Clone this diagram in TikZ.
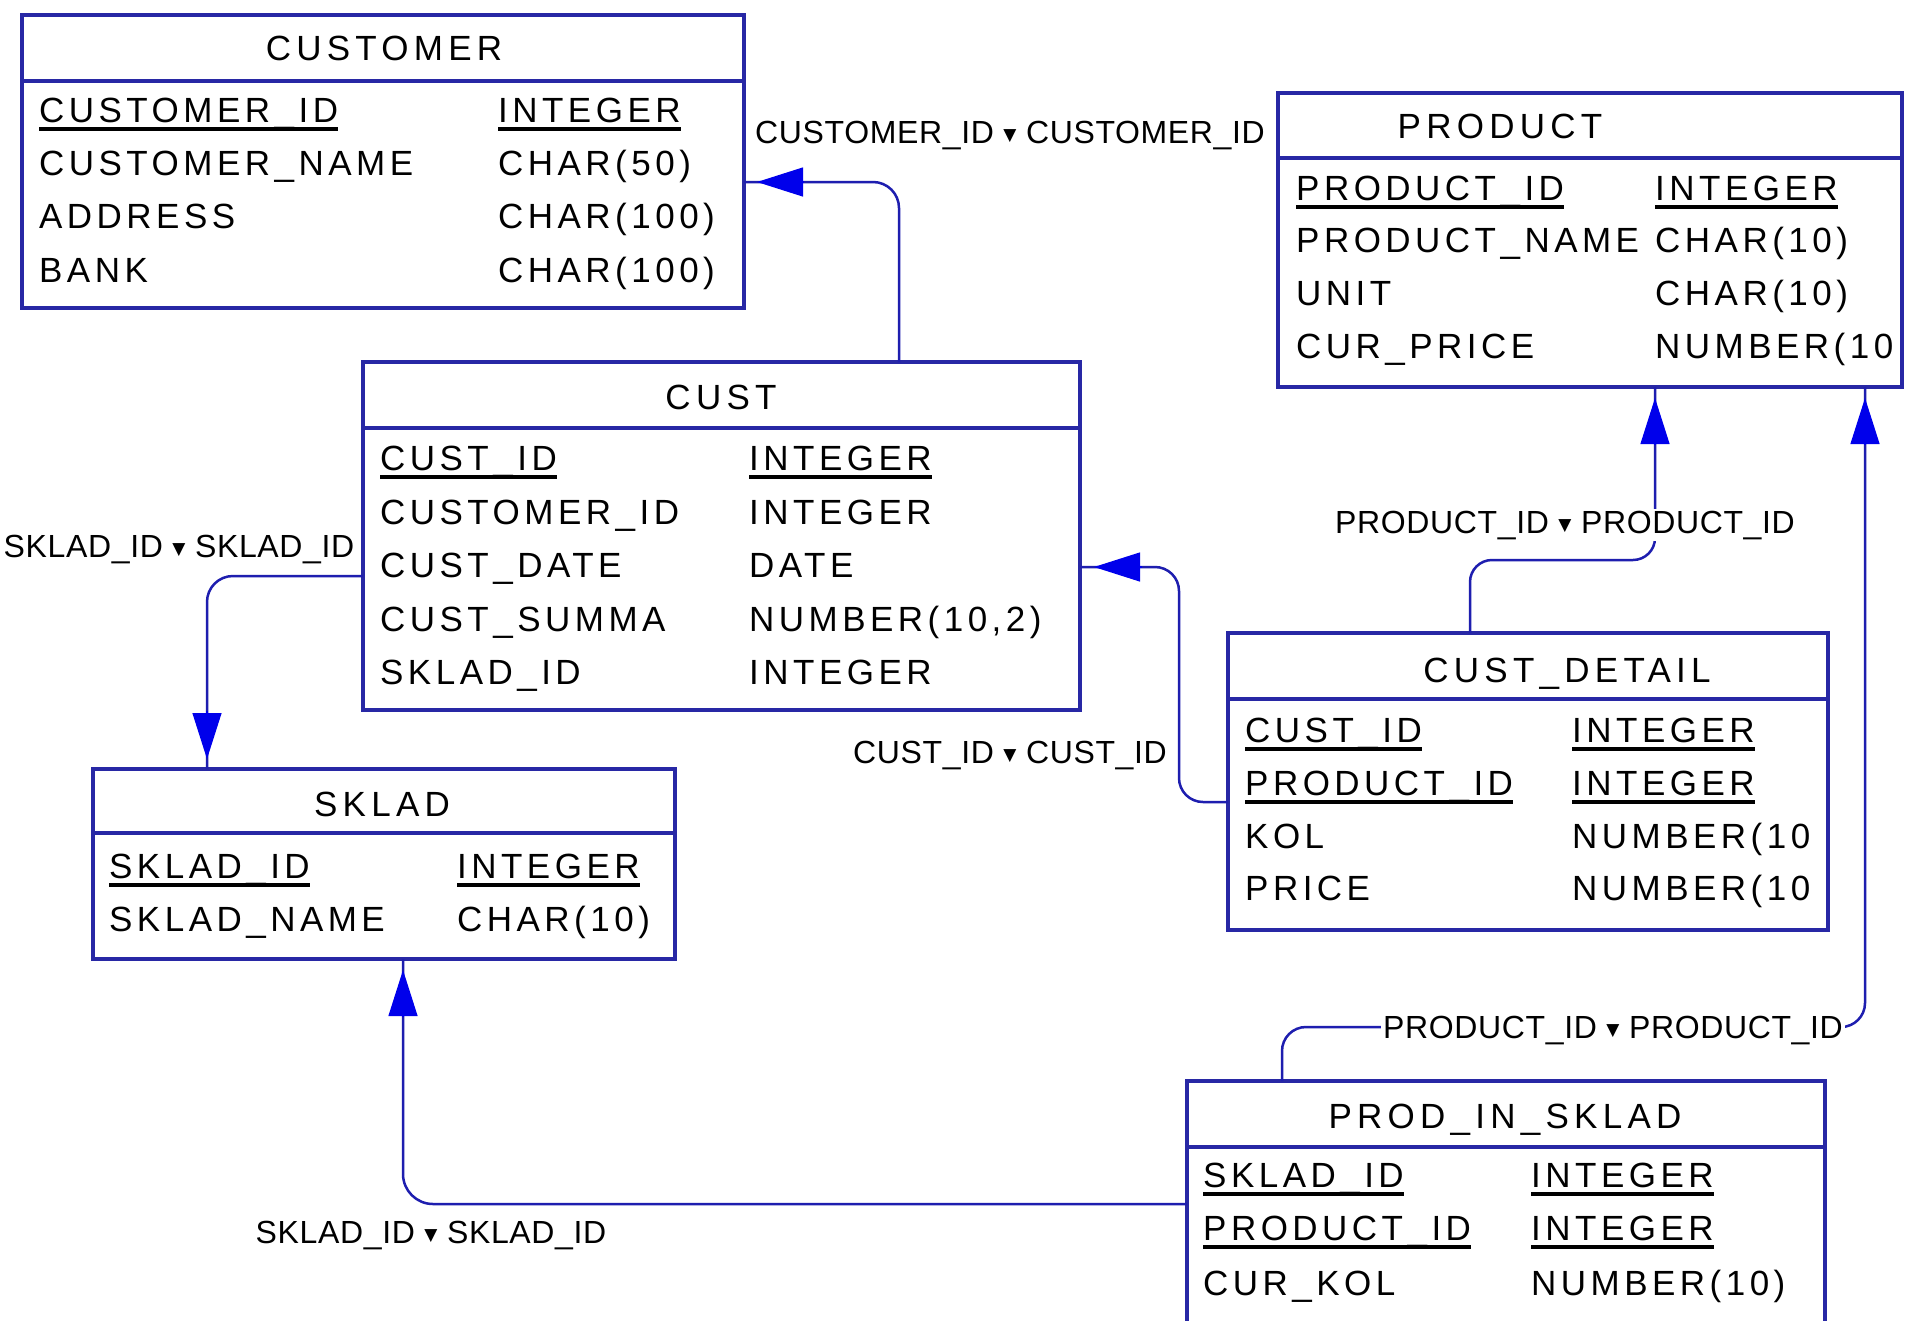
\documentclass[tikz,border=0pt]{standalone}
\usepackage{fontspec}
\setmainfont{Liberation Sans}
\newfontfamily\tblfont[LetterSpace=12.8]{Liberation Sans}
\newfontfamily\titlefont[LetterSpace=15]{Liberation Sans}
\newfontfamily\relfont[LetterSpace=2]{Liberation Sans}
\newfontfamily\symfont{DejaVu Sans}
\usetikzlibrary{arrows.meta,calc}

\definecolor{framec}{RGB}{40,40,165}
\definecolor{linkc}{RGB}{30,30,175}
\definecolor{tipc}{RGB}{0,0,235}

% primary-key fields are underlined with a heavy rule
\newcommand\keyfield[1]{\setbox0=\hbox{#1}\leavevmode\rlap{\rule[-8.5pt]{\wd0}{3.4pt}}\box0}
% one attribute row: name prefix, x of name, x of type, baseline, name, type
\newcommand\attrrow[6]{%
  \node[fld] (#1n) at (#2,#4) {#5};
  \node[fld] (#1t) at (#3,#4) {#6};}
\newcommand\reltri{{\symfont\fontsize{17}{20}\selectfont\raisebox{3pt}{▼}}}

\begin{document}
\begin{tikzpicture}[x=1pt,y=-1pt,
  tbl/.style={draw=framec, line width=3.2pt, fill=white, anchor=north west,
              inner sep=0pt, outer sep=0pt},
  hdr/.style={draw=framec, line width=3.2pt},
  fld/.style={anchor=base west, inner sep=0pt,
              font=\tblfont\fontsize{35}{40}\selectfont},
  ttl/.style={anchor=base, inner sep=0pt,
              font=\titlefont\fontsize{35}{40}\selectfont},
  rel/.style={anchor=base, fill=white, inner sep=2pt,
              font=\relfont\fontsize{32}{36}\selectfont},
  link/.style={draw=linkc, line width=2.5pt, rounded corners=26pt},
  tipline/.style={draw=tipc, line width=1.2pt,
                  -{Triangle[length=46pt,width=29pt]}}]

\clip (0,0) rectangle (1905,1320);
\fill[white] (0,0) rectangle (1905,1320);
\useasboundingbox (0,0) rectangle (1905,1320);

% ---------- tables ----------
\node[tbl, minimum width=722pt, minimum height=293pt] (customer) at (22,15) {};
\draw[hdr] ($(customer.north west)+(0,66)$) -- ($(customer.north east)+(0,66)$);
\node[ttl] (customer-title) at (384,60) {CUSTOMER};
\attrrow{cu1}{39}{498}{122}{\keyfield{CUSTOMER\_ID}}{\keyfield{INTEGER}}
\attrrow{cu2}{39}{498}{175}{CUSTOMER\_NAME}{CHAR(50)}
\attrrow{cu3}{39}{498}{228}{ADDRESS}{CHAR(100)}
\attrrow{cu4}{39}{498}{282}{BANK}{CHAR(100)}

\node[tbl, minimum width=624pt, minimum height=294pt] (product) at (1278,93) {};
\draw[hdr] ($(product.north west)+(0,65)$) -- ($(product.north east)+(0,65)$);
\node[ttl] (product-title) at (1500,138) {PRODUCT};
\attrrow{pr1}{1296}{1655}{200}{\keyfield{PRODUCT\_ID}}{\keyfield{INTEGER}}
\attrrow{pr2}{1296}{1655}{252}{PRODUCT\_NAME}{CHAR(10)}
\attrrow{pr3}{1296}{1655}{305}{UNIT}{CHAR(10)}
\attrrow{pr4}{1296}{1655}{358}{CUR\_PRICE}{NUMBER(10}

\node[tbl, minimum width=717pt, minimum height=348pt] (cust) at (363,362) {};
\draw[hdr] ($(cust.north west)+(0,66)$) -- ($(cust.north east)+(0,66)$);
\node[ttl] (cust-title) at (721,409) {CUST};
\attrrow{cs1}{380}{749}{470}{\keyfield{CUST\_ID}}{\keyfield{INTEGER}}
\attrrow{cs2}{380}{749}{524}{CUSTOMER\_ID}{INTEGER}
\attrrow{cs3}{380}{749}{577}{CUST\_DATE}{DATE}
\attrrow{cs4}{380}{749}{631}{CUST\_SUMMA}{NUMBER(10,2)}
\attrrow{cs5}{380}{749}{684}{SKLAD\_ID}{INTEGER}

\node[tbl, minimum width=582pt, minimum height=190pt] (sklad) at (93,769) {};
\draw[hdr] ($(sklad.north west)+(0,64)$) -- ($(sklad.north east)+(0,64)$);
\node[ttl] (sklad-title) at (382,816) {SKLAD};
\attrrow{sk1}{109}{457}{878}{\keyfield{SKLAD\_ID}}{\keyfield{INTEGER}}
\attrrow{sk2}{109}{457}{931}{SKLAD\_NAME}{CHAR(10)}

\node[tbl, minimum width=600pt, minimum height=297pt] (cdetail) at (1228,633) {};
\draw[hdr] ($(cdetail.north west)+(0,66)$) -- ($(cdetail.north east)+(0,66)$);
\node[ttl] (cdetail-title) at (1567,682) {CUST\_DETAIL};
\attrrow{cd1}{1245}{1572}{742}{\keyfield{CUST\_ID}}{\keyfield{INTEGER}}
\attrrow{cd2}{1245}{1572}{795}{\keyfield{PRODUCT\_ID}}{\keyfield{INTEGER}}
\attrrow{cd3}{1245}{1572}{848}{KOL}{NUMBER(10}
\attrrow{cd4}{1245}{1572}{900}{PRICE}{NUMBER(10}

\node[tbl, minimum width=638pt, minimum height=262pt] (pis) at (1187,1081) {};
\draw[hdr] ($(pis.north west)+(0,66)$) -- ($(pis.north east)+(0,66)$);
\node[ttl] (pis-title) at (1505,1128) {PROD\_IN\_SKLAD};
\attrrow{ps1}{1203}{1531}{1187}{\keyfield{SKLAD\_ID}}{\keyfield{INTEGER}}
\attrrow{ps2}{1203}{1531}{1240}{\keyfield{PRODUCT\_ID}}{\keyfield{INTEGER}}
\attrrow{ps3}{1203}{1531}{1295}{CUR\_KOL}{NUMBER(10)}

% ---------- relationships ----------
% CUST -> CUSTOMER
\draw[link] ($(cust.north west)+(536,0)$) |- ($(customer.north east)+(0,167)$);
\draw[tipline] ($(customer.north east)+(60,167)$) -- ($(customer.north east)+(13,167)$);
% CUST -> SKLAD
\draw[link] ($(cust.north west)+(0,214)$) -| ($(sklad.north west)+(114,0)$);
\draw[tipline] ($(sklad.north west)+(114,-58)$) -- ($(sklad.north west)+(114,-10)$);
% CUST_DETAIL -> CUST
\draw[link, rounded corners=24pt] ($(cdetail.north west)+(0,169)$) -| ($(cust.north east)+(99,205)$) -- ($(cust.north east)+(0,205)$);
\draw[tipline] ($(cust.north east)+(62,205)$) -- ($(cust.north east)+(14,205)$);
% CUST_DETAIL -> PRODUCT
\draw[link, rounded corners=22pt] ($(cdetail.north west)+(242,0)$) |- ($(product.south west)+(377,173)$) -- ($(product.south west)+(377,0)$);
\draw[tipline] ($(product.south west)+(377,58)$) -- ($(product.south west)+(377,11)$);
% PROD_IN_SKLAD -> PRODUCT
\draw[link, rounded corners=24pt] ($(pis.north west)+(95,0)$) |- ($(product.south west)+(587,640)$) -- ($(product.south west)+(587,0)$);
\draw[tipline] ($(product.south west)+(587,58)$) -- ($(product.south west)+(587,11)$);
% PROD_IN_SKLAD -> SKLAD
\draw[link, rounded corners=30pt] ($(pis.north west)+(0,123)$) -| ($(sklad.south west)+(310,0)$);
\draw[tipline] ($(sklad.south west)+(310,58)$) -- ($(sklad.south west)+(310,11)$);

% ---------- relationship labels ----------
\node[rel] (lab-customer) at (1010,143) {CUSTOMER\_ID \reltri{} CUSTOMER\_ID};
\node[rel] (lab-sklad1) at (179,557) {SKLAD\_ID \reltri{} SKLAD\_ID};
\node[rel] (lab-cust) at (1010,763) {CUST\_ID \reltri{} CUST\_ID};
\node[rel] (lab-prod1) at (1565,533) {PRODUCT\_ID \reltri{} PRODUCT\_ID};
\node[rel] (lab-prod2) at (1613,1038) {PRODUCT\_ID \reltri{} PRODUCT\_ID};
\node[rel] (lab-sklad2) at (431,1243) {SKLAD\_ID \reltri{} SKLAD\_ID};
\end{tikzpicture}
\end{document}
